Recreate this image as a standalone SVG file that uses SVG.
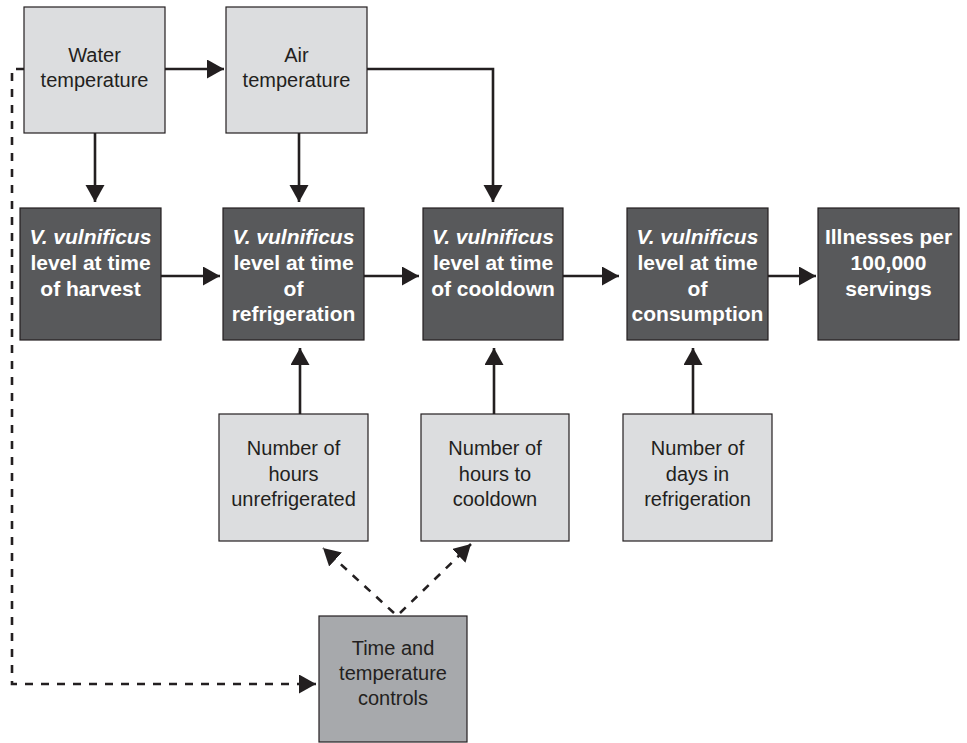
<svg xmlns="http://www.w3.org/2000/svg" width="967" height="743" viewBox="0 0 967 743">
<style>
.light{fill:#dcdddf;stroke:#231f20;stroke-width:1.2}
.dark{fill:#58595b;stroke:#231f20;stroke-width:1.2}
.mid{fill:#a7a9ac;stroke:#231f20;stroke-width:1.2}
.t{font-family:"Liberation Sans",Arial,sans-serif;font-size:20px;fill:#231f20;text-anchor:middle}
.w{font-family:"Liberation Sans",Arial,sans-serif;font-size:21px;font-weight:bold;fill:#ffffff;text-anchor:middle}
.e{fill:none;stroke:#231f20;stroke-width:2.6}
.d{fill:none;stroke:#231f20;stroke-width:2.6;stroke-dasharray:8 8}
</style>
<defs>
<marker id="ah" markerUnits="userSpaceOnUse" markerWidth="18" markerHeight="20" refX="17" refY="9.5" orient="auto">
<path d="M0,0 L17,9.5 L0,19 z" fill="#231f20"/>
</marker>
</defs>
<rect width="967" height="743" fill="#ffffff"/>
<g id="connectors">
<line class="e" x1="165" y1="69" x2="224" y2="69" marker-end="url(#ah)"/>
<polyline class="e" points="367,69 493,69 493,202" marker-end="url(#ah)"/>
<line class="e" x1="95" y1="133" x2="95" y2="202" marker-end="url(#ah)"/>
<line class="e" x1="299" y1="133" x2="299" y2="202" marker-end="url(#ah)"/>
<line class="e" x1="161" y1="276" x2="220" y2="276" marker-end="url(#ah)"/>
<line class="e" x1="364" y1="276" x2="419" y2="276" marker-end="url(#ah)"/>
<line class="e" x1="563" y1="276" x2="619" y2="276" marker-end="url(#ah)"/>
<line class="e" x1="768" y1="276" x2="816" y2="276" marker-end="url(#ah)"/>
<line class="e" x1="300" y1="414" x2="300" y2="348" marker-end="url(#ah)"/>
<line class="e" x1="494" y1="414" x2="494" y2="348" marker-end="url(#ah)"/>
<line class="e" x1="693" y1="414" x2="693" y2="348" marker-end="url(#ah)"/>
<polyline class="d" points="24,69 12,69 12,684 316,684" marker-end="url(#ah)"/>
<line class="d" x1="394" y1="613" x2="323" y2="548" marker-end="url(#ah)"/>
<line class="d" x1="400" y1="613" x2="471" y2="544" marker-end="url(#ah)"/>
</g>
<g id="water-temperature">
<rect class="light" x="24" y="7" width="141" height="126"/>
<text class="t" x="94.5" y="61.5">Water</text>
<text class="t" x="94.5" y="87">temperature</text>
</g>
<g id="air-temperature">
<rect class="light" x="226" y="7" width="141" height="126"/>
<text class="t" x="296.5" y="61.5">Air</text>
<text class="t" x="296.5" y="87">temperature</text>
</g>
<g id="level-harvest">
<rect class="dark" x="20" y="208" width="141" height="132"/>
<text class="w" x="90.5" y="244"><tspan font-style="italic">V. vulnificus</tspan></text>
<text class="w" x="90.5" y="270">level at time</text>
<text class="w" x="90.5" y="296">of harvest</text>
</g>
<g id="level-refrigeration">
<rect class="dark" x="223" y="208" width="141" height="132"/>
<text class="w" x="293.5" y="244"><tspan font-style="italic">V. vulnificus</tspan></text>
<text class="w" x="293.5" y="270">level at time</text>
<text class="w" x="293.5" y="296">of</text>
<text class="w" x="293.5" y="321">refrigeration</text>
</g>
<g id="level-cooldown">
<rect class="dark" x="423" y="208" width="140" height="132"/>
<text class="w" x="493" y="244"><tspan font-style="italic">V. vulnificus</tspan></text>
<text class="w" x="493" y="270">level at time</text>
<text class="w" x="493" y="296">of cooldown</text>
</g>
<g id="level-consumption">
<rect class="dark" x="627" y="208" width="141" height="132"/>
<text class="w" x="697.5" y="244"><tspan font-style="italic">V. vulnificus</tspan></text>
<text class="w" x="697.5" y="270">level at time</text>
<text class="w" x="697.5" y="296">of</text>
<text class="w" x="697.5" y="321">consumption</text>
</g>
<g id="illnesses">
<rect class="dark" x="818" y="208" width="141" height="132"/>
<text class="w" x="888.5" y="244">Illnesses per</text>
<text class="w" x="888.5" y="270">100,000</text>
<text class="w" x="888.5" y="296">servings</text>
</g>
<g id="hours-unrefrigerated">
<rect class="light" x="219" y="414" width="149" height="127"/>
<text class="t" x="293.5" y="455">Number of</text>
<text class="t" x="293.5" y="480.5">hours</text>
<text class="t" x="293.5" y="506">unrefrigerated</text>
</g>
<g id="hours-cooldown">
<rect class="light" x="421" y="414" width="148" height="127"/>
<text class="t" x="495" y="455">Number of</text>
<text class="t" x="495" y="480.5">hours to</text>
<text class="t" x="495" y="506">cooldown</text>
</g>
<g id="days-refrigeration">
<rect class="light" x="623" y="414" width="149" height="127"/>
<text class="t" x="697.5" y="455">Number of</text>
<text class="t" x="697.5" y="480.5">days in</text>
<text class="t" x="697.5" y="506">refrigeration</text>
</g>
<g id="time-temperature-controls">
<rect class="mid" x="319" y="616" width="148" height="126"/>
<text class="t" x="393" y="655">Time and</text>
<text class="t" x="393" y="680">temperature</text>
<text class="t" x="393" y="705">controls</text>
</g>
</svg>
